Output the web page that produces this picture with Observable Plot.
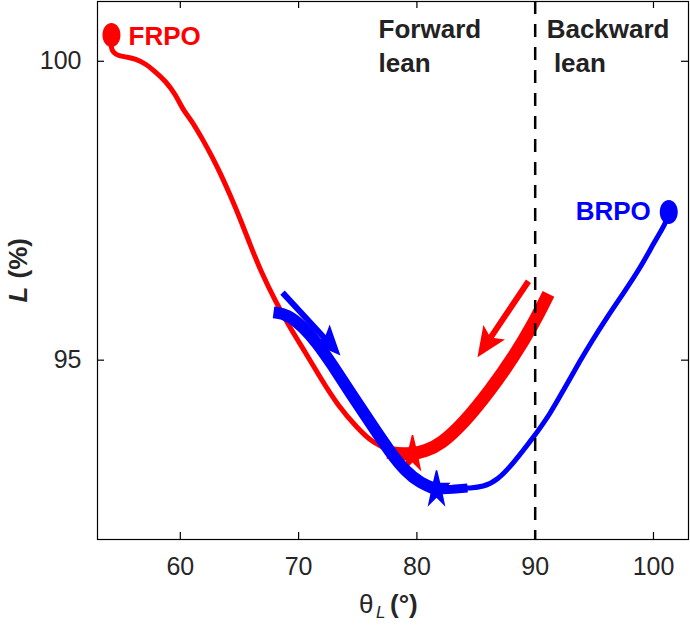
<!DOCTYPE html>
<html><head><meta charset="utf-8">
<script src="https://cdn.jsdelivr.net/npm/d3@7"></script>
<script src="https://cdn.jsdelivr.net/npm/@observablehq/plot@0.6"></script>
<style>body{margin:0;background:#fff}#chart{width:690px;height:631px}</style>
</head><body><div id="chart"></div>
<script>
// ---- data (theta_L in degrees, L in %) ----
const frpoThinTheta = [54.18, 54.10, 54.35, 54.78, 55.54, 56.21, 57.06, 57.90, 58.75, 59.59, 60.27, 60.86, 61.96, 62.72, 63.40, 64.24, 65.09, 65.93, 66.78, 68.05, 69.31, 70.58, 71.85, 73.29, 74.98, 76.33, 77.77, 79.04];
const frpoThinL     = [100.44, 100.24, 100.14, 100.09, 100.07, 100.04, 99.96, 99.82, 99.67, 99.45, 99.17, 99.04, 98.67, 98.39, 98.12, 97.75, 97.35, 96.92, 96.50, 95.98, 95.53, 95.13, 94.70, 94.25, 93.86, 93.61, 93.48, 93.43];
const frpoThickTheta = [77.51, 78.61, 79.63, 80.73, 82.00, 83.94, 86.22, 88.17, 89.86, 91.12];
const frpoThickL     = [93.46, 93.43, 93.43, 93.48, 93.59, 93.94, 94.50, 95.05, 95.61, 96.11];
const brpoThickTheta = [67.88, 69.06, 70.41, 71.60, 72.86, 74.39, 76.08, 77.77, 79.04, 80.30, 81.74];
const brpoThickL     = [95.80, 95.77, 95.55, 95.28, 94.92, 94.45, 93.95, 93.45, 93.14, 92.94, 92.83];
const brpoMidTheta = [81.74, 83.01, 84.28];
const brpoMidL     = [92.83, 92.84, 92.86];
const brpoThinTheta = [84.28, 85.63, 86.81, 88.17, 89.86, 91.29, 92.39, 93.83, 94.67, 96.11, 97.46, 98.90, 100.00, 100.76, 101.10, 101.29];
const brpoThinL     = [92.86, 92.88, 92.99, 93.28, 93.71, 94.11, 94.50, 95.00, 95.28, 95.73, 96.12, 96.55, 96.95, 97.20, 97.33, 97.48];
const starTheta = [79.63, 81.66];
const starL     = [93.43, 92.84];
const startTheta = [54.18, 101.29];
const startL     = [100.44, 97.48];
const seriesNames = ["FRPO", "BRPO"];
const arrowFromTheta = [89.43, 68.64];
const arrowFromL     = [96.32, 96.13];
const arrowToTheta   = [85.12, 73.54];
const arrowToL       = [95.05, 95.08];
const boundaryTheta = 90;
const xTicks = [60, 70, 80, 90, 100];
const yTicks = [95, 100];
const regionLabels = ["Forward\nlean", "Backward\n\u00a0lean"];
const regionLabelTheta = [76.76, 90.97];
const regionLabelL = [100.78, 100.78];
const seriesLabelTheta = [55.62, 93.42];
const seriesLabelL = [100.41, 97.48];

// ---- layout ----
const W = 690, H = 631, mL = 97, mR = 2, mT = 1, mB = 92;
const xDomain = [53, 102.96], yDomain = [92, 101];
const sx = d3.scaleLinear(xDomain, [mL, W - mR]);
const sy = d3.scaleLinear(yDomain, [H - mB, mT]);
const plotW = W - mL - mR, plotH = H - mT - mB;
const RED = "#ff0000", BLUE = "#0000ff", FONT = "'Liberation Sans', Arial, Helvetica, sans-serif";

const zip = (t, l) => t.map((v, i) => ({t: v, L: l[i]}));
const frpoThin = zip(frpoThinTheta, frpoThinL);
const frpoThick = zip(frpoThickTheta, frpoThickL);
const brpoThick = zip(brpoThickTheta, brpoThickL);
const brpoMid = zip(brpoMidTheta, brpoMidL);
const brpoThin = zip(brpoThinTheta, brpoThinL);
const colors = [RED, BLUE];
const stars = starTheta.map((t, i) => ({t, L: starL[i], c: colors[i]}));
const starts = startTheta.map((t, i) => ({t, L: startL[i], c: colors[i]}));
const arrows = arrowFromTheta.map((t, i) => ({x1: t, y1: arrowFromL[i], x2: arrowToTheta[i], y2: arrowToL[i], c: colors[i]}));
const regions = regionLabels.map((s, i) => ({s, t: regionLabelTheta[i], L: regionLabelL[i]}));
const seriesLab = seriesNames.map((s, i) => ({s, t: seriesLabelTheta[i], L: seriesLabelL[i], c: colors[i]}));

// ---- custom symbols ----
function ellipseSymbol(rx, ry) {
  const k = 0.5523;
  return {draw(ctx) {
    ctx.moveTo(rx, 0);
    ctx.bezierCurveTo(rx, ry * k, rx * k, ry, 0, ry);
    ctx.bezierCurveTo(-rx * k, ry, -rx, ry * k, -rx, 0);
    ctx.bezierCurveTo(-rx, -ry * k, -rx * k, -ry, 0, -ry);
    ctx.bezierCurveTo(rx * k, -ry, rx, -ry * k, rx, 0);
    ctx.closePath();
  }};
}
function starSymbol(R, stretch) {
  return {draw(ctx) {
    for (let i = 0; i < 10; i++) {
      const a = i * Math.PI / 5, r = i % 2 ? R * 0.4 : R;
      const x = Math.sin(a) * r, y = -Math.cos(a) * r * stretch;
      i ? ctx.lineTo(x, y) : ctx.moveTo(x, y);
    }
    ctx.closePath();
  }};
}
function arrowSymbol(a) {
  const x1 = sx(a.x1), y1 = sy(a.y1), x2 = sx(a.x2), y2 = sy(a.y2);
  const dx = x2 - x1, dy = y2 - y1, len = Math.hypot(dx, dy);
  const ux = dx / len, uy = dy / len, px = -uy, py = ux;
  const hl = 30, hw = 26, notch = 5, sw = 6;
  const P = (along, side) => [-along * ux + side * px, -along * uy + side * py];
  const pts = [P(0, 0), P(hl, hw / 2), P(hl - notch, sw / 2), P(len, sw / 2), P(len, -sw / 2), P(hl - notch, -sw / 2), P(hl, -hw / 2)];
  return {draw(ctx) { ctx.moveTo(...pts[0]); pts.slice(1).forEach(p => ctx.lineTo(...p)); ctx.closePath(); }};
}

const lineOpts = (stroke, w, cap, curve) => ({x: "t", y: "L", stroke, strokeWidth: w, curve, strokeLinejoin: "round", strokeLinecap: cap});
const fmt = d => String(d);

const chart = Plot.plot({
  width: W, height: H,
  marginLeft: mL, marginRight: mR, marginTop: mT, marginBottom: mB,
  x: {domain: xDomain, label: null},
  y: {domain: yDomain, label: null},
  style: {fontFamily: FONT, fontSize: "25px", color: "#262626", background: "#fff", overflow: "visible"},
  marks: [
    Plot.axisX(xTicks, {tickSize: 0, tickPadding: 18, tickFormat: fmt, fontSize: 25, fill: "#262626"}),
    Plot.axisY(yTicks, {tickSize: 0, tickPadding: 16, tickFormat: fmt, fontSize: 25, fill: "#262626"}),
    Plot.tickX(xTicks, {x: d => d, insetTop: plotH - 7, stroke: "#000", strokeWidth: 1.2}),
    Plot.tickX(xTicks, {x: d => d, insetBottom: plotH - 7, stroke: "#000", strokeWidth: 1.2}),
    Plot.tickY(yTicks, {y: d => d, insetRight: plotW - 7, stroke: "#000", strokeWidth: 1.2}),
    Plot.tickY(yTicks, {y: d => d, insetLeft: plotW - 7, stroke: "#000", strokeWidth: 1.2}),
    Plot.line(frpoThin, lineOpts(RED, 5, "round", "basis")),
    Plot.line(frpoThick, lineOpts(RED, 13, "butt", "basis")),
    Plot.dot(stars.slice(0, 1), {x: "t", y: "L", symbol: starSymbol(13, 1.45), r: 10, fill: "c", stroke: "c", strokeWidth: 1.5, strokeLinejoin: "miter"}),
    Plot.line(brpoThick, lineOpts(BLUE, 12, "butt", "basis")),
    Plot.line(brpoMid, lineOpts(BLUE, 9, "butt", "linear")),
    Plot.line(brpoThin, lineOpts(BLUE, 5, "round", "basis")),
    Plot.dot(stars.slice(1), {x: "t", y: "L", symbol: starSymbol(13, 1.45), r: 10, fill: "c", stroke: "c", strokeWidth: 1.5, strokeLinejoin: "miter"}),
    Plot.dot(starts, {x: "t", y: "L", symbol: ellipseSymbol(9, 12), r: 10, fill: "c", stroke: "none"}),
    ...arrows.map(a => Plot.dot([a], {x: "x2", y: "y2", symbol: arrowSymbol(a), r: 10, fill: a.c, stroke: "none"})),
    Plot.ruleX([boundaryTheta], {stroke: "#000", strokeWidth: 2.5, strokeDasharray: "13,10"}),
    Plot.frame({stroke: "#000", strokeWidth: 1.2}),
    Plot.text(regions, {x: "t", y: "L", text: "s", textAnchor: "start", lineAnchor: "top", lineHeight: 1.29, fontSize: 26, fontWeight: "bold", fill: "#222"}),
    Plot.text(seriesLab, {x: "t", y: "L", text: "s", textAnchor: "start", lineAnchor: "middle", fontSize: 26, fontWeight: "bold", fill: "c"}),
    // y axis label: L (%)
    Plot.text(["L"], {frameAnchor: "left", rotate: -90, dx: -79, dy: 32, textAnchor: "start", fontSize: 26, fontWeight: "bold", fontStyle: "italic", fill: "#262626"}),
    Plot.text(["(%)"], {frameAnchor: "left", rotate: -90, dx: -79, dy: 8, textAnchor: "start", fontSize: 26, fontWeight: "bold", fill: "#262626"}),
    // x axis label: θL (°)
    Plot.text(["\u03b8"], {frameAnchor: "bottom", dx: -34, dy: 73, textAnchor: "start", lineAnchor: "bottom", fontSize: 26, fill: "#262626"}),
    Plot.text(["L"], {frameAnchor: "bottom", dx: -17, dy: 78, textAnchor: "start", lineAnchor: "bottom", fontSize: 17, fontStyle: "italic", fill: "#262626"}),
    Plot.text(["(\u00b0)"], {frameAnchor: "bottom", dx: -3, dy: 73, textAnchor: "start", lineAnchor: "bottom", fontSize: 26, fontWeight: "bold", fill: "#262626"})
  ]
});
document.getElementById("chart").appendChild(chart);
</script>
</body></html>
